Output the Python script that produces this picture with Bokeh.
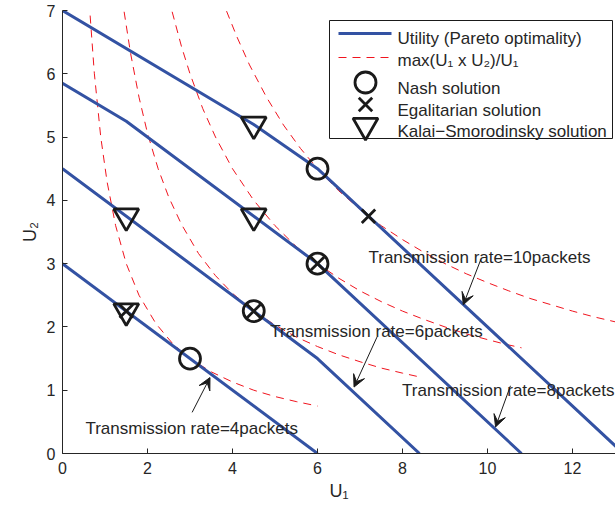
from bokeh.plotting import figure
from bokeh.models import Range1d, ColumnDataSource, Arrow, VeeHead, FixedTicker
from bokeh.core.properties import value
from bokeh.embed import file_html
from bokeh.resources import INLINE

# ---------------- data ----------------
# Pareto frontiers (utility) for each transmission rate
util4_x = [0, 6]
util4_y = [3, 0]
util6_x = [0, 6, 8.4]
util6_y = [4.5, 1.5, 0]
util8_x = [0, 1.5, 6, 10.8]
util8_y = [5.85, 5.25, 3.0, 0]
util10_x = [0, 4.5, 6, 13.2]
util10_y = [7.0, 5.2, 4.5, 0]

# max(U1 x U2)/U1 curves
curve4_x = [0.65, 0.75, 0.9, 1.05, 1.25, 1.5, 1.8, 2.2, 2.6, 3.0, 3.5, 4.0, 4.5, 5.0, 5.5, 6.0]
curve4_y = [6.92, 6.0, 5.0, 4.29, 3.6, 3.0, 2.5, 2.05, 1.73, 1.5, 1.29, 1.13, 1.0, 0.9, 0.82, 0.75]
curve6_x = [1.45, 1.6, 1.8, 2.0, 2.25, 2.5, 2.8, 3.2, 3.6, 4.0, 4.5, 5.0, 5.5, 6.0, 6.5, 7.0, 7.5, 8.0, 8.4]
curve6_y = [6.98, 6.33, 5.63, 5.06, 4.5, 4.05, 3.62, 3.16, 2.81, 2.53, 2.25, 2.03, 1.84, 1.69, 1.56, 1.45, 1.35, 1.27, 1.21]
curve8_x = [2.58, 2.8, 3.0, 3.3, 3.6, 4.0, 4.5, 5.0, 5.5, 6.0, 6.5, 7.0, 7.5, 8.0, 8.5, 9.0, 9.5, 10.0, 10.4, 10.8]
curve8_y = [6.98, 6.43, 6.0, 5.45, 5.0, 4.5, 4.0, 3.6, 3.27, 3.0, 2.77, 2.57, 2.4, 2.25, 2.12, 2.0, 1.89, 1.8, 1.73, 1.67]
curve10_x = [3.86, 4.1, 4.4, 4.8, 5.2, 5.6, 6.0, 6.5, 7.0, 7.5, 8.0, 8.5, 9.0, 9.5, 10.0, 10.5, 11.0, 11.5, 12.0, 12.5, 13.2]
curve10_y = [6.99, 6.59, 6.14, 5.63, 5.19, 4.82, 4.5, 4.15, 3.86, 3.6, 3.38, 3.18, 3.0, 2.84, 2.7, 2.57, 2.45, 2.35, 2.25, 2.16, 2.05]

# solutions
nash_x = [3.0, 4.5, 6.0, 6.0]
nash_y = [1.5, 2.25, 3.0, 4.5]
egal_x = [1.5, 4.5, 6.0, 7.2]
egal_y = [2.25, 2.25, 3.0, 3.75]
ks_x = [1.5, 1.5, 4.5, 4.5]
ks_y = [2.25, 3.75, 3.75, 5.2]

# annotations
ann_text = ["Transmission rate=4packets", "Transmission rate=6packets",
            "Transmission rate=8packets", "Transmission rate=10packets"]
ann_x = [0.54, 4.89, 7.99, 7.2]
ann_y = [0.4, 1.92, 1.0, 3.1]
arrow_x0 = [3.05, 7.40, 10.54, 9.84]
arrow_y0 = [0.65, 1.84, 1.07, 3.06]
arrow_x1 = [3.47, 6.86, 10.19, 9.43]
arrow_y1 = [1.2, 1.05, 0.42, 2.35]

legend_labels = ["Utility (Pareto optimality)", "max(U\u2081 x U\u2082)/U\u2081",
                 "Nash solution", "Egalitarian solution", "Kalai\u2212Smorodinsky solution"]

x_ticks = [0, 2, 4, 6, 8, 10, 12]
y_ticks = [0, 1, 2, 3, 4, 5, 6, 7]

# ---------------- styling ----------------
FONT = value("Liberation Sans")
BLUE = "#3352a3"
RED = "#f0141e"
INK = "#1a1a1a"
TXT = "#262626"

W, H = 615, 505
LEFT, RIGHT, TOP, BOTTOM = 62, 0, 10, 52
FW, FH = W - LEFT - RIGHT, H - TOP - BOTTOM
XPX = 42.5  # pixels per unit on x

p = figure(width=W, height=H, output_backend="svg", toolbar_location=None,
           x_range=Range1d(0, FW / XPX), y_range=Range1d(0, 7),
           min_border_left=LEFT, min_border_right=RIGHT,
           min_border_top=TOP, min_border_bottom=BOTTOM)
p.extra_x_ranges = {"lgx": Range1d(0, FW)}
p.extra_y_ranges = {"lgy": Range1d(0, FH)}

p.outline_line_color = None
p.background_fill_color = "white"
p.border_fill_color = "white"
p.xgrid.visible = False
p.ygrid.visible = False

for ax in (p.xaxis[0], p.yaxis[0]):
    ax.axis_line_color = TXT
    ax.axis_line_width = 1
    ax.major_tick_line_color = TXT
    ax.major_tick_in = 5
    ax.major_tick_out = 0
    ax.minor_tick_line_color = None
    ax.major_label_text_font = "Liberation Sans"
    ax.major_label_text_font_size = "16px"
    ax.major_label_text_color = TXT
    ax.axis_label_text_font = "Liberation Sans"
    ax.axis_label_text_font_size = "18px"
    ax.axis_label_text_font_style = "normal"
    ax.axis_label_text_color = TXT
p.xaxis[0].ticker = FixedTicker(ticks=x_ticks)
p.yaxis[0].ticker = FixedTicker(ticks=y_ticks)
p.xaxis[0].axis_label = "U\u2081"
p.yaxis[0].axis_label = "U\u2082"
p.xaxis[0].major_label_standoff = 8
p.yaxis[0].major_label_standoff = 7
p.xaxis[0].axis_label_standoff = 4
p.yaxis[0].axis_label_standoff = 4

# curves
for cx, cy in [(curve4_x, curve4_y), (curve6_x, curve6_y), (curve8_x, curve8_y), (curve10_x, curve10_y)]:
    p.line(cx, cy, line_color=RED, line_width=1, line_dash="8 6")
for ux, uy in [(util4_x, util4_y), (util6_x, util6_y), (util8_x, util8_y), (util10_x, util10_y)]:
    p.line(ux, uy, line_color=BLUE, line_width=3)

p.scatter(nash_x, nash_y, marker="circle", size=21, fill_color=None, line_color=INK, line_width=2.8)
p.scatter(egal_x, egal_y, marker="x", size=19, line_color=INK, line_width=2.8)
p.scatter(ks_x, ks_y, marker="inverted_triangle", size=25, fill_color=None, line_color=INK, line_width=2.8)

# annotations
p.text(x=ann_x, y=ann_y, text=ann_text, text_font=FONT, text_font_size="17px",
       text_color=TXT, text_align="left", text_baseline="alphabetic")
arr_src = ColumnDataSource(dict(x0=arrow_x0, y0=arrow_y0, x1=arrow_x1, y1=arrow_y1))
p.add_layout(Arrow(source=arr_src, x_start="x0", y_start="y0", x_end="x1", y_end="y1",
                   line_color=INK, line_width=1,
                   end=VeeHead(size=12, fill_color=INK, line_color=INK, line_width=1)))

# legend (drawn in frame pixel coordinates)
lg = dict(x_range_name="lgx", y_range_name="lgy")
p.quad(left=[267], right=[550], bottom=[315], top=[433], fill_color="white",
       line_color=INK, line_width=1, **lg)
p.line([276, 329], [420, 420], line_color=BLUE, line_width=3, **lg)
p.line([276, 329], [396, 396], line_color=RED, line_width=1, line_dash="8 6", **lg)
p.scatter([303], [371], marker="circle", size=21, fill_color=None, line_color=INK, line_width=2.8, **lg)
p.scatter([303], [349], marker="x", size=19, line_color=INK, line_width=2.8, **lg)
p.scatter([303], [328], marker="inverted_triangle", size=25, fill_color=None, line_color=INK, line_width=2.8, **lg)
p.text(x=[335] * 5, y=[415, 393, 365, 343, 322], text=legend_labels, text_font=FONT,
       text_font_size="17px", text_color=TXT, text_align="left", text_baseline="alphabetic", **lg)

open("out.html", "w").write(file_html(p, INLINE))
